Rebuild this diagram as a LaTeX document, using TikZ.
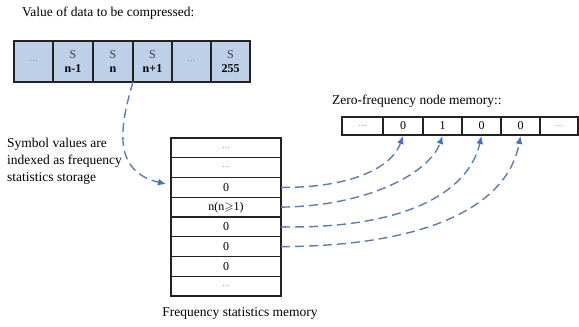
\documentclass[tikz,border=0pt]{standalone}
\usepackage{fontspec}
\usepackage{amssymb}
\setmainfont{Liberation Serif}
\usetikzlibrary{arrows.meta}
\definecolor{cellblue}{RGB}{190,208,232}
\definecolor{linkblue}{RGB}{95,125,172}
\definecolor{tipblue}{RGB}{68,114,196}
\definecolor{framegray}{RGB}{35,35,35}
\tikzset{
  lbl/.style={font=\fontsize{13.5}{17}\selectfont, inner sep=0pt},
  celltxt/.style={font=\fontsize{12}{13}\selectfont, inner sep=0pt},
  dots/.style={font=\fontsize{8}{9}\selectfont, text=black!60, inner sep=0pt},
  valcell/.style={draw=framegray, line width=1.3pt, fill=cellblue},
  plaincell/.style={draw=framegray, line width=1.15pt},
  link/.style={draw=linkblue, line width=1.4pt, dash pattern=on 9pt off 5pt,
    -{Latex[length=8pt,width=7pt,fill=tipblue,color=tipblue]}},
}
\begin{document}
\begin{tikzpicture}[x=1pt,y=-1pt]
\useasboundingbox (0,0) rectangle (579,327);

% input symbols array
\node[lbl, anchor=west] (title1) at (22,13) {Value of data to be compressed:};
\foreach \i/\a/\b in {0/14/53,1/53/93,2/93/133,3/133/172,4/172/211,5/211/250}{
  \draw[valcell] (\a,41) rectangle (\b,82);
  \coordinate (v\i) at ({(\a+\b)/2},61.5);
}
\node[dots] (vd0) at (v0) {\ldots};
\node[celltxt, align=center] (vs1) at (v1) {\textcolor{black!75}{S}\\[1pt]\textbf{n-1}};
\node[celltxt, align=center] (vs2) at (v2) {\textcolor{black!75}{S}\\[1pt]\textbf{n}};
\node[celltxt, align=center] (vs3) at (v3) {\textcolor{black!75}{S}\\[1pt]\textbf{n+1}};
\node[dots] (vd4) at (v4) {\ldots};
\node[celltxt, align=center] (vs5) at (v5) {\textcolor{black!75}{S}\\[1pt]\textbf{255}};
\coordinate (vout) at (133,82);

% zero-frequency node memory
\node[lbl, anchor=west] (title2) at (332,101) {Zero-frequency node memory::};
\foreach \i/\a/\b in {0/342/383,1/383/423,2/423/462,3/462/501,4/501/540,5/540/578}{
  \draw[plaincell] (\a,117) rectangle (\b,135);
  \coordinate (z\i) at ({(\a+\b)/2},126);
  \coordinate (zin\i) at ({(\a+\b)/2},136);
}
\node[dots] (zd0) at (z0) {\ldots};
\node[celltxt] (zt1) at (z1) {0};
\node[celltxt] (zt2) at (z2) {1};
\node[celltxt] (zt3) at (z3) {0};
\node[celltxt] (zt4) at (z4) {0};
\node[dots] (zd5) at (z5) {\ldots};

% frequency statistics memory
\foreach \i in {0,...,7}{
  \draw[plaincell] (171,{138+\i*19.75}) rectangle (281,{138+(\i+1)*19.75});
  \coordinate (f\i) at (226,{138+(\i+0.5)*19.75});
  \coordinate (fo\i) at (281,{138+(\i+0.5)*19.75});
}
\node[dots] (fd0) at (f0) {\ldots};
\node[dots] (fd1) at (f1) {\ldots};
\node[celltxt] (ft2) at (f2) {0};
\node[celltxt] (ft3) at (f3) {n(n$\geqslant$1)};
\node[celltxt] (ft4) at (f4) {0};
\node[celltxt] (ft5) at (f5) {0};
\node[celltxt] (ft6) at (f6) {0};
\node[dots] (fd7) at (f7) {\ldots};
\coordinate (fin) at (166,184);
\node[lbl] (title3) at (240,313) {Frequency statistics memory};

\node[lbl, anchor=west, align=left] (note) at (7,161)
  {Symbol values are\\indexed as frequency\\statistics storage};

% symbol value used as an index
\draw[link] (vout) .. controls (117,135) and (116,172) .. (fin);

% zero-frequency links
\draw[link] (fo2) .. controls (350,188) and (392,168) .. (zin1);
\draw[link] (fo3) .. controls (370,206) and (430,172) .. (zin2);
\draw[link] (fo4) .. controls (400,229) and (468,195) .. (zin3);
\draw[link] (fo5) .. controls (430,246) and (508,205) .. (zin4);
\end{tikzpicture}
\end{document}
